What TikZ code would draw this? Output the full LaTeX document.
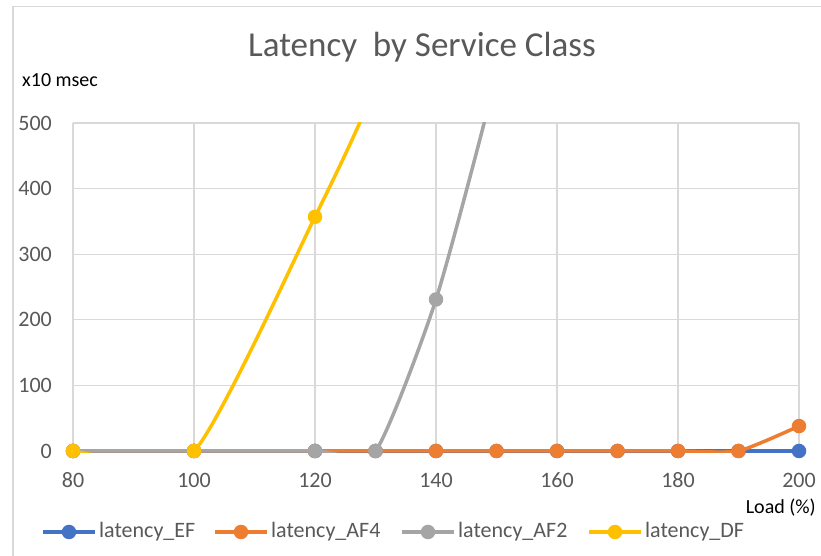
\documentclass[tikz,border=0pt]{standalone}
\usepackage{fontspec}
\setmainfont{Carlito}
\usetikzlibrary{positioning}

\definecolor{efblue}{HTML}{4472C4}
\definecolor{afforange}{HTML}{ED7D31}
\definecolor{aftwogray}{HTML}{A5A5A5}
\definecolor{dfyellow}{HTML}{FFC000}
\definecolor{gridgray}{HTML}{D9D9D9}
\definecolor{txtgray}{HTML}{595959}

\tikzset{
    gridline/.style={draw=gridgray, line width=1.2pt},
    series/.style={line width=3.5pt, line cap=round, line join=round},
    dot/.style={circle, fill=#1, inner sep=0pt, minimum size=14.5pt},
    ticklabel/.style={text=txtgray, font=\fontsize{22}{26}\selectfont, inner sep=0pt},
    axistitle/.style={text=black, font=\fontsize{20}{24}\selectfont, inner sep=0pt},
    legendtext/.style={text=txtgray, font=\fontsize{22}{26}\selectfont, inner sep=0pt, anchor=west}
}

\begin{document}
\begin{tikzpicture}[x=1pt, y=1pt]
        % Page and chart frame
        \useasboundingbox (0,0) rectangle (821,556);
        \fill[white] (0,0) rectangle (821,556);
        \draw[gridgray, line width=1.5pt] (13,-10) |- (840,549.5);

        % Title and axis titles
        \node[text=txtgray, font=\fontsize{35}{42}\selectfont, inner sep=0pt] (title) at (422,509) {Latency\ \ by Service Class};
        \node[axistitle, anchor=west] (ytitle) at (22,476) {x10 msec};
        \node[axistitle, anchor=east] (xtitle) at (816,48) {Load (\%)};

        \begin{scope}[shift={(-411,105)}, x=6.05pt, y=0.656pt]
            % Grid
            \foreach \gx in {80,100,...,200} {
                \draw[gridline] (\gx,0) -- (\gx,500);
                \node[ticklabel] (xtick\gx) at ([yshift=-29pt]\gx,0) {\gx};
            }
            \foreach \gy in {0,100,...,500} {
                \draw[gridline] (80,\gy) -- (200,\gy);
                \node[ticklabel, anchor=east] (ytick\gy) at ([xshift=-21pt]80,\gy) {\gy};
            }

            \def\plotclip{\clip (79.5,-3) rectangle (200.6,500);}

            % latency_EF
            \begin{scope}
                \plotclip
                \draw[series, efblue] plot[smooth, tension=0.34] coordinates {(80,0) (100,0) (120,0) (130,0) (140,0) (150,0) (160,0) (170,0) (180,0) (190,0) (200,0)};
            \end{scope}
            \foreach \px in {80,100,120,130,140,150,160,170,180,190,200}
                \node[dot=efblue] (ef\px) at (\px,0) {};

            % latency_AF4
            \begin{scope}
                \plotclip
                \draw[series, afforange] plot[smooth, tension=0.34] coordinates {(80,0) (100,0) (120,0) (130,0) (140,0) (150,0) (160,0) (170,0) (180,0) (190,0) (200,38)};
            \end{scope}
            \foreach \px/\py in {80/0,100/0,120/0,130/0,140/0,150/0,160/0,170/0,180/0,190/0,200/38}
                \node[dot=afforange] (af4\px) at (\px,\py) {};

            % latency_AF2
            \begin{scope}
                \plotclip
                \draw[series, aftwogray] plot[smooth, tension=0.34] coordinates {(80,0) (100,0) (120,0) (130,0) (140,231) (150,575) (160,1000)};
            \end{scope}
            \foreach \px/\py in {80/0,100/0,120/0,130/0,140/231}
                \node[dot=aftwogray] (af2\px) at (\px,\py) {};

            % latency_DF
            \begin{scope}
                \plotclip
                \draw[series, dfyellow] plot[smooth, tension=0.34] coordinates {(80,0) (100,0) (120,357) (130,560) (140,900)};
            \end{scope}
            \foreach \px/\py in {80/0,100/0,120/357}
                \node[dot=dfyellow] (df\px) at (\px,\py) {};
        \end{scope}

        % Legend
        \foreach \mx/\col/\nm in {69/efblue/EF, 241/afforange/AF4, 428/aftwogray/AF2, 615/dfyellow/DF} {
            \draw[series, \col, line cap=butt] (\mx-26,24) -- (\mx+26,24);
            \node[dot=\col] (leg\nm) at (\mx,24) {};
            \node[legendtext] (legtext\nm) at (\mx+30,24) {latency\_\nm};
        }
    \end{tikzpicture}
\end{document}
